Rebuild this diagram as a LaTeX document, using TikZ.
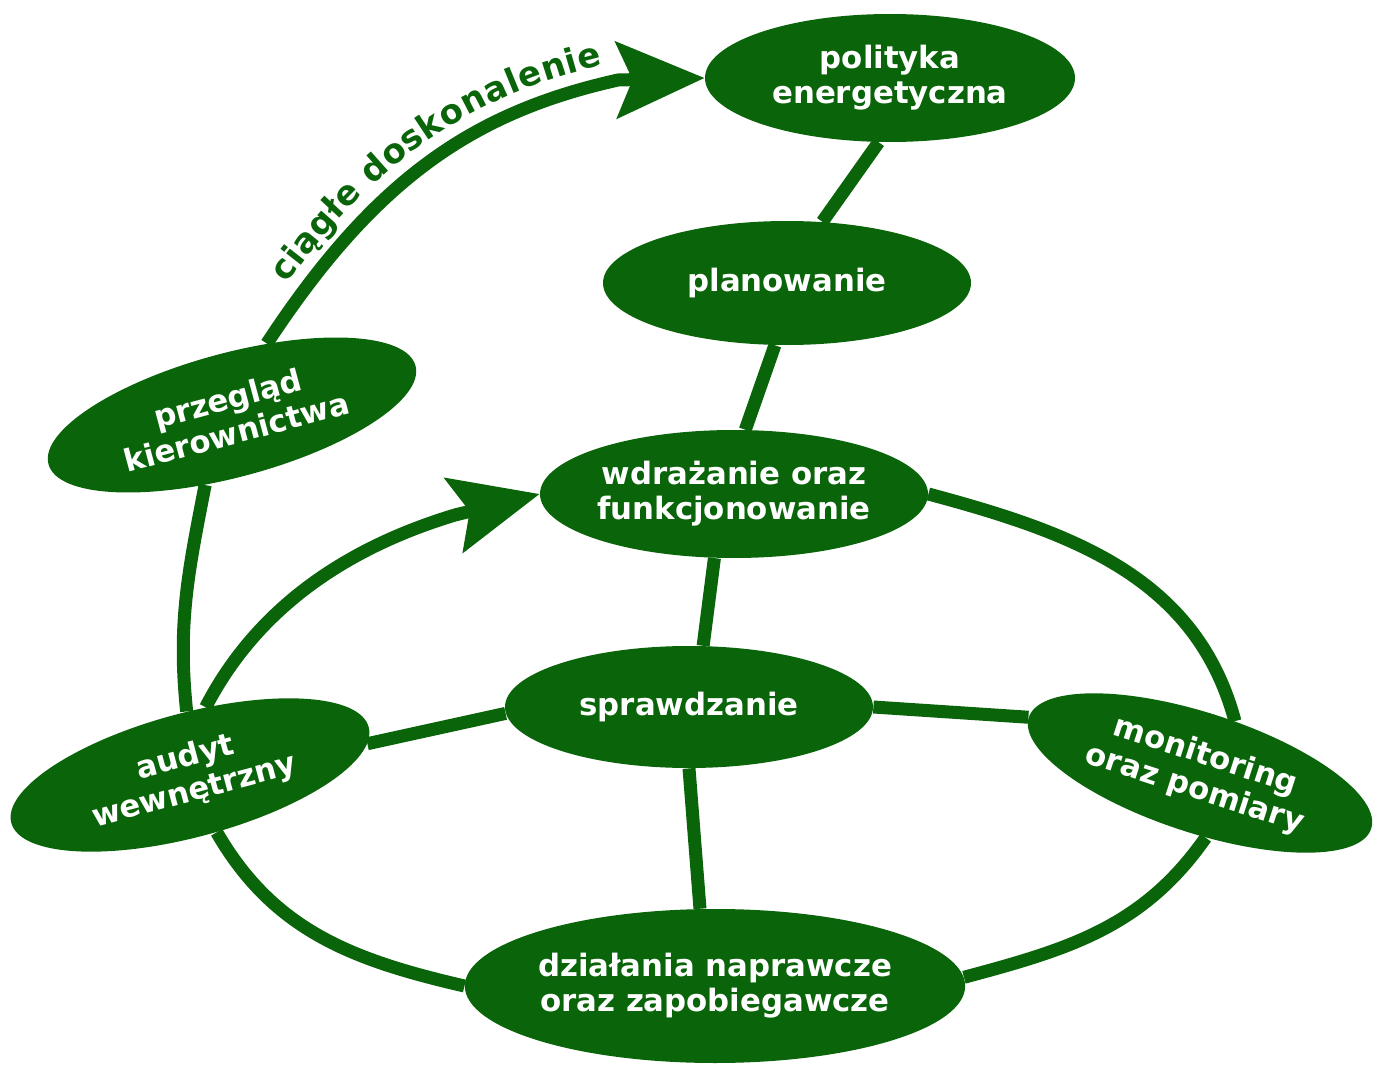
\documentclass[tikz,border=0pt]{standalone}
\usepackage{fontspec}
\setmainfont{DejaVu Sans}
\usetikzlibrary{shapes.geometric,arrows.meta,backgrounds,decorations.text}
\definecolor{gruen}{RGB}{10,100,10}
\newcommand{\knotenfont}{\fontsize{15.4}{17.5}\selectfont\bfseries}
\newcommand{\bogenfont}{\fontsize{17}{19}\selectfont\bfseries}

\begin{document}
\begin{tikzpicture}[x=0.5pt,y=0.5pt,
	elip/.style={ellipse,fill=gruen,text=white,inner sep=0pt,align=center,font=\knotenfont},
	lin/.style={draw=gruen,line width=6.5pt},
	pfeil/.style={lin,-{Stealth[length=44pt,width=38pt,inset=8pt]}}]
	\useasboundingbox (0,0) rectangle (1373,-1070);

	\node[elip,minimum width=185pt,minimum height=64pt] (polityka) at (890,-78) {polityka\\energetyczna};
	\node[elip,minimum width=184pt,minimum height=62pt] (planowanie) at (787,-283) {planowanie};
	\node[elip,minimum width=194pt,minimum height=64pt] (wdrazanie) at (734,-494) {wdrażanie oraz\\funkcjonowanie};
	\node[elip,minimum width=184pt,minimum height=61pt] (sprawdzanie) at (689,-707) {sprawdzanie};
	\node[elip,minimum width=247pt,minimum height=77pt] (dzialania) at (715,-986) {działania naprawcze\\oraz zapobiegawcze};
	\node[elip,minimum width=190pt,minimum height=62pt,rotate=15] (przeglad) at (232,-415) {przegląd\\kierownictwa};
	\node[elip,minimum width=185pt,minimum height=62pt,rotate=15] (audyt) at (190,-775) {audyt\\wewnętrzny};
	\node[elip,minimum width=180pt,minimum height=60pt,rotate=-18] (monitoring) at (1200,-773) {monitoring\\oraz pomiary};

	% Fusspunkte der beiden Pfeilspitzen
	\coordinate (fuss1) at (618,-80);
	\coordinate (fuss2) at (455,-515);

	\begin{scope}[on background layer]
		\draw[lin] (polityka.260) -- (planowanie.60);
		\draw[lin] (planowanie.259) -- (wdrazanie.80);
		\draw[lin] (wdrazanie.253) -- (sprawdzanie.77);
		\draw[lin] (sprawdzanie.270) -- (dzialania.101);
		\draw[lin] (sprawdzanie.182) -- (audyt.-5);
		\draw[lin] (sprawdzanie.east) -- (monitoring.west);
		\draw[lin] (wdrazanie.east) to[out=-15,in=105] (monitoring.74);
		\draw[lin] (monitoring.-67) to[out=-125,in=15] (dzialania.2);
		\draw[lin] (dzialania.west) to[out=167,in=-60] (audyt.-80);
		\draw[lin] (przeglad.234) to[out=-101,in=96] (audyt.78);
	\end{scope}

	\draw[pfeil] (audyt.62) .. controls (258,-606) and (349,-547) .. (fuss2) -- (wdrazanie.west);
	\draw[pfeil] (przeglad.49) .. controls (376,-177) and (475,-112) .. (fuss1) -- (polityka.west);
	\path[decorate,decoration={text along path,text color=gruen,raise=9pt,
		text align={left indent=30pt},text={|\bogenfont|ciągłe doskonalenie}}]
		(przeglad.49) .. controls (376,-177) and (475,-112) .. (fuss1) -- (polityka.west);
\end{tikzpicture}
\end{document}
